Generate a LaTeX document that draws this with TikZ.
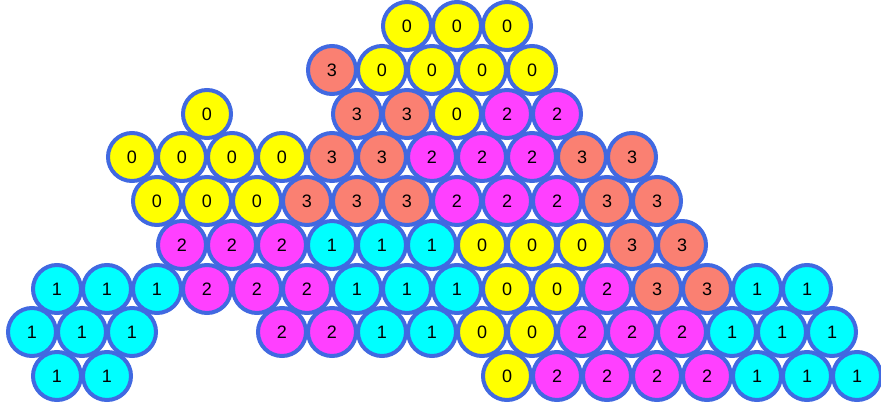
\documentclass[tikz,border=0pt]{standalone}
\usepackage{fontspec}
\setmainfont{Liberation Sans}
\definecolor{ringblue}{RGB}{65,105,225}
\definecolor{col0}{RGB}{255,255,0}
\definecolor{col1}{RGB}{0,255,255}
\definecolor{col2}{RGB}{255,64,255}
\definecolor{col3}{RGB}{250,128,114}
\tikzset{
  ball/.style={circle, draw=ringblue, line width=4pt, fill=col#1,
    minimum size=48pt, inner sep=0pt, font=\fontsize{18}{18}\selectfont},
}
\begin{document}
\begin{tikzpicture}[x=1pt,y=-1pt]
  \useasboundingbox (0,0) rectangle (881,407);
  % row 0 (top)
  \foreach \k/\v in {16/0,18/0,20/0}
    \node[ball=\v] (b0-\k) at ({7+25*\k},26) {\v};
  % row 1
  \foreach \k/\v in {13/3,15/0,17/0,19/0,21/0}
    \node[ball=\v] (b1-\k) at ({7+25*\k},70) {\v};
  % row 2
  \foreach \k/\v in {8/0,14/3,16/3,18/0,20/2,22/2}
    \node[ball=\v] (b2-\k) at ({7+25*\k},114) {\v};
  % row 3
  \foreach \k/\v in {5/0,7/0,9/0,11/0,13/3,15/3,17/2,19/2,21/2,23/3,25/3}
    \node[ball=\v] (b3-\k) at ({7+25*\k},157) {\v};
  % row 4
  \foreach \k/\v in {6/0,8/0,10/0,12/3,14/3,16/3,18/2,20/2,22/2,24/3,26/3}
    \node[ball=\v] (b4-\k) at ({7+25*\k},201) {\v};
  % row 5
  \foreach \k/\v in {7/2,9/2,11/2,13/1,15/1,17/1,19/0,21/0,23/0,25/3,27/3}
    \node[ball=\v] (b5-\k) at ({7+25*\k},245) {\v};
  % row 6
  \foreach \k/\v in {2/1,4/1,6/1,8/2,10/2,12/2,14/1,16/1,18/1,20/0,22/0,24/2,26/3,28/3,30/1,32/1}
    \node[ball=\v] (b6-\k) at ({7+25*\k},289) {\v};
  % row 7
  \foreach \k/\v in {1/1,3/1,5/1,11/2,13/2,15/1,17/1,19/0,21/0,23/2,25/2,27/2,29/1,31/1,33/1}
    \node[ball=\v] (b7-\k) at ({7+25*\k},332) {\v};
  % row 8 (bottom)
  \foreach \k/\v in {2/1,4/1,20/0,22/2,24/2,26/2,28/2,30/1,32/1,34/1}
    \node[ball=\v] (b8-\k) at ({7+25*\k},376) {\v};
\end{tikzpicture}
\end{document}
